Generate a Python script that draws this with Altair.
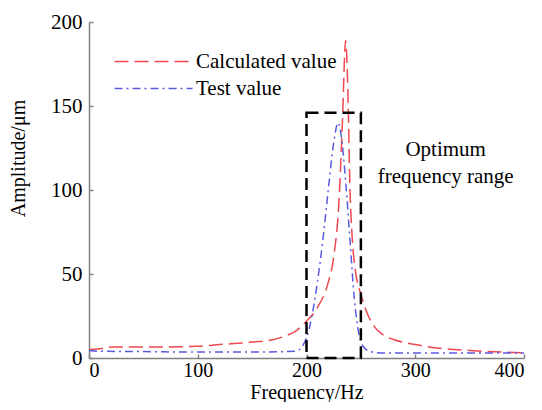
import altair as alt
import pandas as pd

calc_freq = [0, 10, 20, 50, 100, 120, 150, 170, 180, 190, 200, 210, 220, 225, 230, 233, 236, 238, 240, 242, 245, 250, 255, 260, 270, 280, 300, 320, 350, 380, 400]
calc_amp = [5, 5.5, 6.5, 6.5, 7, 8, 9.5, 11, 13, 16, 22, 30, 45, 60, 95, 140, 189, 160, 100, 72, 52, 38, 28, 21, 14, 11, 8, 6, 4.5, 3.5, 3]

test_freq = [0, 10, 50, 100, 150, 190, 195, 200, 205, 210, 215, 220, 225, 229, 232, 236, 240, 244, 248, 252, 258, 270, 300, 400]
test_amp = [4.5, 4, 3.8, 3.5, 3.5, 4, 6, 12, 25, 45, 70, 100, 128, 140, 132, 105, 70, 35, 15, 7, 4, 3, 3, 3]

series = ["Calculated value", "Test value"]
colors = ["#ee4850", "#5a5ae0"]
dashes = [[14, 6], [8, 4, 2, 4]]

x_ticks = [0, 100, 200, 300, 400]
y_ticks = [0, 50, 100, 150, 200]

box_x = [200]
box_x2 = [250]
box_y = [0]
box_y2 = [146]

note_x = [328]
note_y = [124]
note_text = [["Optimum", "frequency range"]]

rows = []
for f, a in zip(calc_freq, calc_amp):
    rows.append({"f": f, "a": a, "s": series[0]})
for f, a in zip(test_freq, test_amp):
    rows.append({"f": f, "a": a, "s": series[1]})
df = pd.DataFrame(rows)

FONT = "Liberation Serif"
FS = 21
GRAY = "#808080"

xscale = alt.Scale(domain=[0, 400], nice=False)
yscale = alt.Scale(domain=[0, 200], nice=False)

xaxis = alt.Axis(orient="bottom", values=x_ticks, title="Frequency/Hz", grid=False,
                 ticks=False, labelPadding=2, domainColor=GRAY, domainWidth=1.5,
                 labelFont=FONT, labelFontSize=20, labelColor="black",
                 titleFont=FONT, titleFontSize=20, titleFontWeight="normal", titleColor="black",
                 titlePadding=2)
yaxis = alt.Axis(orient="left", values=y_ticks, title="Amplitude/μm", grid=False,
                 ticks=False, labelPadding=7, domainColor=GRAY, domainWidth=1.5,
                 labelFont=FONT, labelFontSize=FS, labelColor="black",
                 titleFont=FONT, titleFontSize=20, titleFontWeight="normal", titleColor="black",
                 titlePadding=22, titleY=136)

xticks_axis = alt.Axis(orient="bottom", values=x_ticks, title=None, grid=False, labels=False,
                       domain=False, tickSize=4, tickColor=GRAY, tickWidth=1.5, offset=-4)
yticks_axis = alt.Axis(orient="left", values=y_ticks, title=None, grid=False, labels=False,
                       domain=False, tickSize=4, tickColor=GRAY, tickWidth=1.5, offset=-4)

lines = alt.Chart(df).mark_line(strokeWidth=1.5, interpolate="monotone").encode(
    x=alt.X("f:Q", scale=xscale, axis=xaxis),
    y=alt.Y("a:Q", scale=yscale, axis=yaxis),
    color=alt.Color("s:N", scale=alt.Scale(domain=series, range=colors), title=None,
                    legend=alt.Legend(orient="none", legendX=54, legendY=29, symbolType="M-4,0H4",
                                      symbolSize=380, symbolStrokeWidth=1.5, labelFont=FONT,
                                      labelFontSize=FS, labelColor="black", rowPadding=5,
                                      labelOffset=32)),
    strokeDash=alt.StrokeDash("s:N", scale=alt.Scale(domain=series, range=dashes), title=None),
)

box = alt.Chart(pd.DataFrame({"x": box_x, "x2": box_x2, "y": box_y, "y2": box_y2})).mark_rect(
    fillOpacity=0, stroke="black", strokeWidth=2.5, strokeDash=[12, 6]
).encode(
    x=alt.X("x:Q", scale=xscale, axis=xticks_axis),
    x2="x2:Q",
    y=alt.Y("y:Q", scale=yscale, axis=yticks_axis),
    y2="y2:Q",
)

note = alt.Chart(pd.DataFrame({"x": note_x, "y": note_y, "t": note_text})).mark_text(
    font=FONT, fontSize=FS, align="center", baseline="middle", lineHeight=27, color="black"
).encode(x=alt.X("x:Q", scale=xscale, axis=None), y=alt.Y("y:Q", scale=yscale, axis=None), text="t")

chart = alt.layer(lines, box, note).resolve_axis(x="independent", y="independent").properties(
    width=435, height=336,
    autosize=alt.AutoSizeParams(type="none"),
    padding={"left": 81, "top": 14, "right": 10, "bottom": 44},
).configure_view(stroke=None)

chart.save("out.html", embed_options={"renderer": "svg", "actions": False})
